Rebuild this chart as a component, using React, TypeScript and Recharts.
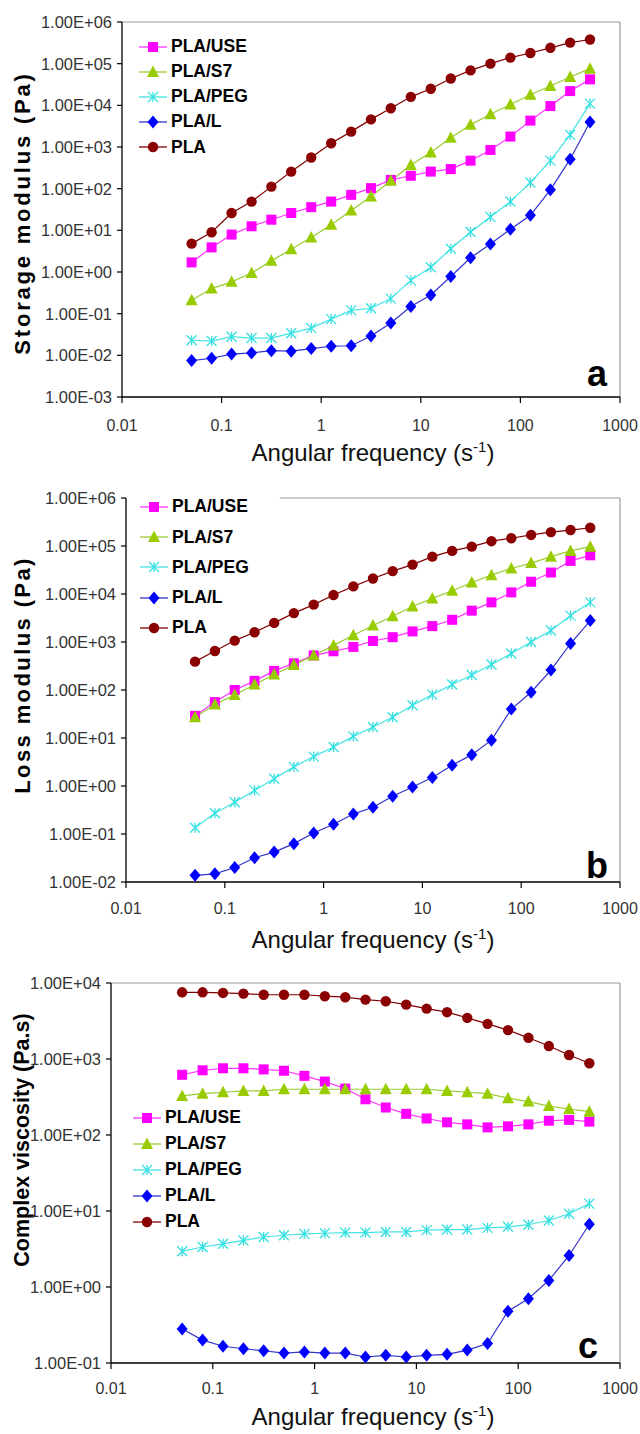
import React from 'react';
import { LineChart, Line, XAxis, YAxis, Legend, Label, ReferenceLine } from 'recharts';

const FONT = "'Liberation Sans', Arial, Helvetica, sans-serif";

// Angular frequency (s^-1)
const FREQ = [0.05, 0.0794, 0.126, 0.2, 0.316, 0.5, 0.794, 1.26, 2, 3.16, 5, 7.94, 12.6, 20, 31.6, 50, 79.4, 126, 200, 316, 500];
const X_TICKS = [0.01, 0.1, 1, 10, 100, 1000];

const SERIES_NAMES = ['PLA/USE', 'PLA/S7', 'PLA/PEG', 'PLA/L', 'PLA'];
const SERIES_KEYS = ['use', 's7', 'peg', 'l', 'pla'];

// (a) Storage modulus (Pa)
const storageUSE = [1.7, 3.9, 7.9, 12.5, 18, 26, 36, 49, 71, 103, 162, 204, 257, 295, 470, 850, 1780, 4300, 9600, 22000, 42000];
const storageS7 = [0.21, 0.4, 0.58, 0.95, 1.85, 3.5, 6.7, 13.7, 30, 65, 155, 370, 740, 1670, 3400, 6100, 10500, 18000, 29000, 48000, 76000];
const storagePEG = [0.023, 0.022, 0.028, 0.026, 0.026, 0.034, 0.045, 0.074, 0.12, 0.135, 0.23, 0.63, 1.3, 3.6, 9.1, 21, 49, 140, 470, 1950, 11000];
const storageL = [0.0075, 0.0085, 0.0107, 0.0114, 0.0129, 0.0126, 0.0145, 0.0165, 0.017, 0.029, 0.06, 0.148, 0.28, 0.78, 2.2, 4.7, 10.6, 23, 94, 510, 4000];
const storagePLA = [4.8, 9, 26, 49, 112, 257, 560, 1230, 2340, 4600, 8500, 16000, 25000, 44000, 69000, 100000, 140000, 180000, 240000, 320000, 380000];

// (b) Loss modulus (Pa)
const lossUSE = [29, 56, 100, 155, 250, 360, 525, 640, 790, 1050, 1260, 1660, 2140, 2900, 4500, 6700, 10800, 18000, 28000, 49000, 64000];
const lossS7 = [27, 50, 79, 130, 210, 330, 525, 850, 1380, 2200, 3450, 5500, 8100, 11700, 17400, 24700, 34000, 44000, 60000, 79000, 97000];
const lossPEG = [0.135, 0.27, 0.46, 0.81, 1.42, 2.5, 4.1, 6.5, 10.8, 17, 27, 48, 80, 130, 205, 340, 575, 1000, 1740, 3550, 6700];
const lossL = [0.0138, 0.0148, 0.02, 0.032, 0.042, 0.063, 0.105, 0.16, 0.26, 0.36, 0.61, 0.95, 1.5, 2.7, 4.5, 9, 40, 90, 260, 930, 2800];
const lossPLA = [390, 650, 1070, 1600, 2500, 4000, 6000, 9500, 14400, 21000, 30000, 41000, 60000, 79000, 97000, 126000, 145000, 170000, 195000, 215000, 240000];

// (c) Complex viscosity (Pa.s)
const viscUSE = [620, 710, 755, 755, 730, 700, 600, 505, 408, 295, 230, 190, 165, 147, 138, 126, 130, 138, 154, 158, 150];
const viscS7 = [327, 350, 365, 380, 380, 400, 400, 400, 400, 400, 400, 400, 400, 380, 365, 350, 305, 275, 240, 220, 203];
const viscPEG = [2.95, 3.36, 3.7, 4.1, 4.55, 4.8, 5.0, 5.1, 5.2, 5.2, 5.3, 5.3, 5.6, 5.7, 5.7, 6.0, 6.2, 6.6, 7.5, 9.2, 12.5];
const viscL = [0.28, 0.2, 0.166, 0.154, 0.145, 0.135, 0.14, 0.135, 0.135, 0.12, 0.126, 0.12, 0.126, 0.13, 0.148, 0.18, 0.48, 0.7, 1.22, 2.6, 6.7];
const viscPLA = [7540, 7540, 7400, 7250, 7000, 7000, 7000, 6700, 6500, 6050, 5750, 5200, 4600, 4130, 3480, 2900, 2400, 1900, 1480, 1130, 880];

const Y_TICKS_A = [1e-3, 1e-2, 1e-1, 1, 10, 100, 1e3, 1e4, 1e5, 1e6];
const Y_TICKS_B = [1e-2, 1e-1, 1, 10, 100, 1e3, 1e4, 1e5, 1e6];
const Y_TICKS_C = [1e-1, 1, 10, 100, 1e3, 1e4];

const STYLE: Record<string, { color: string; line: string; shape: string }> = {
  use: { color: '#FF00FF', line: '#FF33FF', shape: 'square' },
  s7: { color: '#99CC00', line: '#99CC33', shape: 'triangle' },
  peg: { color: '#33E0E0', line: '#44E4E4', shape: 'star' },
  l: { color: '#0000FF', line: '#3333CC', shape: 'diamond' },
  pla: { color: '#8B0000', line: '#800000', shape: 'circle' },
};

function buildRows(cols: number[][]) {
  return FREQ.map((f, i) => {
    const row: Record<string, number> = { f };
    SERIES_KEYS.forEach((k, j) => {
      row[k] = cols[j][i];
    });
    return row;
  });
}

const rowsA = buildRows([storageUSE, storageS7, storagePEG, storageL, storagePLA]);
const rowsB = buildRows([lossUSE, lossS7, lossPEG, lossL, lossPLA]);
const rowsC = buildRows([viscUSE, viscS7, viscPEG, viscL, viscPLA]);

function fmtE(v: number) {
  const e = Math.round(Math.log10(v));
  const s = e < 0 ? '-' : '+';
  return `1.00E${s}${String(Math.abs(e)).padStart(2, '0')}`;
}

function Marker({ shape, cx, cy, color }: { shape: string; cx: number; cy: number; color: string }) {
  if (cx == null || cy == null || isNaN(cx) || isNaN(cy)) return <g />;
  switch (shape) {
    case 'square':
      return <rect x={cx - 5} y={cy - 5} width={10} height={10} fill={color} />;
    case 'triangle':
      return <polygon points={`${cx},${cy - 6.5} ${cx + 6},${cy + 5} ${cx - 6},${cy + 5}`} fill={color} />;
    case 'star':
      return (
        <g stroke={color} strokeWidth={1.3}>
          <line x1={cx - 5} y1={cy - 5} x2={cx + 5} y2={cy + 5} />
          <line x1={cx - 5} y1={cy + 5} x2={cx + 5} y2={cy - 5} />
          <line x1={cx} y1={cy - 5} x2={cx} y2={cy + 5} />
        </g>
      );
    case 'diamond':
      return <polygon points={`${cx},${cy - 6.5} ${cx + 5.5},${cy} ${cx},${cy + 6.5} ${cx - 5.5},${cy}`} fill={color} />;
    default:
      return <circle cx={cx} cy={cy} r={5.2} fill={color} />;
  }
}

function makeLegend(rowH: number) {
  return (props: any) => {
    const items = [...(props.payload || [])].sort(
      (a: any, b: any) => SERIES_NAMES.indexOf(a.value) - SERIES_NAMES.indexOf(b.value)
    );
    return (
      <div style={{ fontFamily: FONT, fontWeight: 'bold', fontSize: 17.5, color: '#000' }}>
        {items.map((it: any) => {
          const key = SERIES_KEYS[SERIES_NAMES.indexOf(it.value)];
          const st = STYLE[key];
          return (
            <div key={it.value} style={{ display: 'flex', alignItems: 'center', height: rowH, whiteSpace: 'nowrap' }}>
              <svg width={29} height={16} style={{ display: 'block' }}>
                <line x1={0} y1={8} x2={28} y2={8} stroke={st.line} strokeWidth={1.3} />
                <Marker shape={st.shape} cx={14} cy={8} color={st.color} />
              </svg>
              <span style={{ marginLeft: 3, lineHeight: 1 }}>{it.value}</span>
            </div>
          );
        })}
      </div>
    );
  };
}

type PanelCfg = {
  top: number;
  height: number;
  marginTop: number;
  yAxisWidth: number;
  xAxisHeight: number;
  yDomain: [number, number];
  yTicks: number[];
  rows: Record<string, number>[];
  tickMargin: number;
  legendLeft: number;
  legendTop: number;
  legendRowH: number;
  yTitle: string;
  yTitleY: number;
  yTitleSize: number;
  yTitleSpacing: number;
  xTitleY: number;
  letter: string;
  letterX: number;
  letterY: number;
  topBorderFrom: number;
};

function Panel({ cfg }: { cfg: PanelCfg }) {
  return (
    <div style={{ position: 'absolute', left: 0, top: cfg.top }}>
      <LineChart
        width={640}
        height={cfg.height}
        data={cfg.rows}
        margin={{ top: cfg.marginTop, right: 20, left: 0, bottom: 0 }}
      >
        <ReferenceLine
          segment={[
            { x: cfg.topBorderFrom, y: cfg.yDomain[1] },
            { x: 1000, y: cfg.yDomain[1] },
          ]}
          stroke="#9a9a9a"
          strokeWidth={1.2}
          ifOverflow="visible"
        />
        <ReferenceLine x={1000} stroke="#9a9a9a" strokeWidth={1.2} ifOverflow="visible" />
        <XAxis
          dataKey="f"
          type="number"
          scale="log"
          domain={[0.01, 1000]}
          ticks={X_TICKS}
          allowDataOverflow
          height={cfg.xAxisHeight}
          tickSize={6}
          tickMargin={cfg.tickMargin}
          tickFormatter={(v: number) => String(v)}
          tick={{ fontSize: 16, fill: '#333', fontFamily: FONT }}
          axisLine={{ stroke: '#000', strokeWidth: 1.3 }}
          tickLine={{ stroke: '#000', strokeWidth: 1.2 }}
        >
          <Label
            content={() => (
              <text x={373} y={cfg.xTitleY} textAnchor="middle" fontSize={24} fontFamily={FONT} fill="#111">
                Angular frequency (s
                <tspan dy={-9} fontSize={15}>
                  -1
                </tspan>
                <tspan dy={9}>)</tspan>
              </text>
            )}
          />
          <Label
            content={() => (
              <text
                x={cfg.letterX}
                y={cfg.letterY}
                textAnchor="middle"
                fontSize={36}
                fontWeight="bold"
                fontFamily={FONT}
                fill="#000"
              >
                {cfg.letter}
              </text>
            )}
          />
        </XAxis>
        <YAxis
          type="number"
          scale="log"
          domain={cfg.yDomain}
          ticks={cfg.yTicks}
          allowDataOverflow
          width={cfg.yAxisWidth}
          tickSize={5}
          tickMargin={5}
          tickFormatter={fmtE}
          tick={{ fontSize: 16.5, fill: '#333', fontFamily: FONT }}
          axisLine={{ stroke: '#000', strokeWidth: 1.3 }}
          tickLine={{ stroke: '#000', strokeWidth: 1.2 }}
        >
          <Label
            content={() => (
              <text
                x={22}
                y={cfg.yTitleY}
                transform={`rotate(-90 22 ${cfg.yTitleY})`}
                textAnchor="middle"
                dominantBaseline="central"
                fontSize={cfg.yTitleSize}
                fontWeight="bold"
                fontFamily={FONT}
                fill="#000"
                style={{ letterSpacing: cfg.yTitleSpacing }}
              >
                {cfg.yTitle}
              </text>
            )}
          />
        </YAxis>
        <Legend
          layout="vertical"
          align="center"
          verticalAlign="middle"
          content={makeLegend(cfg.legendRowH)}
          wrapperStyle={{ left: cfg.legendLeft, top: cfg.legendTop, width: 'auto', height: 'auto' }}
        />
        {SERIES_KEYS.map((k, j) => {
          const st = STYLE[k];
          return (
            <Line
              key={k}
              dataKey={k}
              name={SERIES_NAMES[j]}
              stroke={st.line}
              strokeWidth={1.2}
              isAnimationActive={false}
              legendType="none"
              dot={(p: any) => <Marker key={`${k}-${p.index}`} shape={st.shape} cx={p.cx} cy={p.cy} color={st.color} />}
              activeDot={false}
            />
          );
        })}
      </LineChart>
    </div>
  );
}

const PANEL_A: PanelCfg = {
  top: 0,
  height: 470,
  marginTop: 22,
  yAxisWidth: 122,
  xAxisHeight: 73,
  yDomain: [1e-3, 1e6],
  yTicks: Y_TICKS_A,
  rows: rowsA,
  tickMargin: 17,
  legendLeft: 139,
  legendTop: 34,
  legendRowH: 25.2,
  yTitle: 'Storage modulus (Pa)',
  yTitleY: 213,
  yTitleSize: 22,
  yTitleSpacing: 2.8,
  xTitleY: 461,
  letter: 'a',
  letterX: 597,
  letterY: 386,
  topBorderFrom: 0.01,
};

const PANEL_B: PanelCfg = {
  top: 470,
  height: 490,
  marginTop: 28,
  yAxisWidth: 126,
  xAxisHeight: 78,
  yDomain: [1e-2, 1e6],
  yTicks: Y_TICKS_B,
  rows: rowsB,
  tickMargin: 15,
  legendLeft: 140,
  legendTop: 22,
  legendRowH: 30.2,
  yTitle: 'Loss modulus (Pa)',
  yTitleY: 205,
  yTitleSize: 22,
  yTitleSpacing: 2.4,
  xTitleY: 478,
  letter: 'b',
  letterX: 597,
  letterY: 408,
  topBorderFrom: 0.36,
};

const PANEL_C: PanelCfg = {
  top: 960,
  height: 474,
  marginTop: 23,
  yAxisWidth: 111,
  xAxisHeight: 71,
  yDomain: [1e-1, 1e4],
  yTicks: Y_TICKS_C,
  rows: rowsC,
  tickMargin: 14,
  legendLeft: 133,
  legendTop: 145,
  legendRowH: 26,
  yTitle: 'Complex viscosity (Pa.s)',
  yTitleY: 180,
  yTitleSize: 21.5,
  yTitleSpacing: 0,
  xTitleY: 465,
  letter: 'c',
  letterX: 588,
  letterY: 398,
  topBorderFrom: 0.01,
};

export default function App() {
  return (
    <div style={{ position: 'absolute', left: 0, top: 0, width: 640, height: 1434, background: '#fff' }}>
      <Panel cfg={PANEL_A} />
      <Panel cfg={PANEL_B} />
      <Panel cfg={PANEL_C} />
    </div>
  );
}
